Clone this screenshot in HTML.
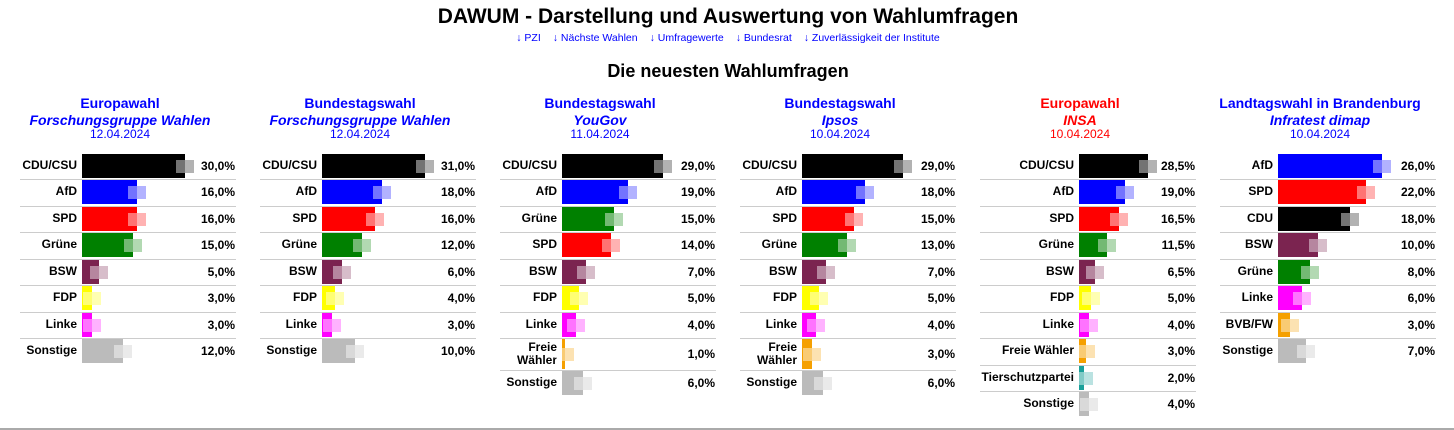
<!DOCTYPE html>
<html><head><meta charset="utf-8">
<style>
body{margin:0;width:1454px;height:430px;background:#fff;font-family:"Liberation Sans",Arial,sans-serif;position:relative;overflow:hidden}
.a{position:absolute;white-space:nowrap}
h1{position:absolute;top:5px;left:0;width:1456px;text-align:center;margin:0;font-size:21px;font-weight:bold}
.links{position:absolute;top:32px;left:0;width:1456px;text-align:center;font-size:10.5px;color:#00f}
.links span{margin:0 6px}
h2{position:absolute;top:61px;left:0;width:1456px;text-align:center;margin:0;font-size:18px;font-weight:bold}
.t{text-align:center;width:240px;color:#00f}
.lab{font-size:12px;font-weight:bold;text-align:right;line-height:13px}
.pct{font-size:12px;font-weight:bold;text-align:right}
.sep{position:absolute;height:1px;background:#ccc}
</style></head><body>
<h1>DAWUM - Darstellung und Auswertung von Wahlumfragen</h1>
<div class="links"><span>↓ PZI</span><span>↓ Nächste Wahlen</span><span>↓ Umfragewerte</span><span>↓ Bundesrat</span><span>↓ Zuverlässigkeit der Institute</span></div>
<h2>Die neuesten Wahlumfragen</h2>
<div style="position:absolute;left:0;top:428px;width:1454px;height:2px;background:#aaa"></div>
<div id="root"></div>
<script>
const C={CDU:"#000",AfD:"#00f",SPD:"#f00",G:"#008000",BSW:"#7b2450",FDP:"#ff0",L:"#f0f",FW:"#f5a000",S:"#bbb",T:"#1aa09a",BVB:"#f5a000"};
const P=[
 {x:0,l:20,bar:82,sc:3.43,c:"#00f",t:["Europawahl","Forschungsgruppe Wahlen","12.04.2024"],
  r:[["CDU/CSU","CDU",30],["AfD","AfD",16],["SPD","SPD",16],["Grüne","G",15],["BSW","BSW",5],["FDP","FDP",3],["Linke","L",3],["Sonstige","S",12]]},
 {x:240,l:260,bar:322,sc:3.32,c:"#00f",t:["Bundestagswahl","Forschungsgruppe Wahlen","12.04.2024"],
  r:[["CDU/CSU","CDU",31],["AfD","AfD",18],["SPD","SPD",16],["Grüne","G",12],["BSW","BSW",6],["FDP","FDP",4],["Linke","L",3],["Sonstige","S",10]]},
 {x:480,l:500,bar:562,sc:3.48,c:"#00f",t:["Bundestagswahl","YouGov","11.04.2024"],
  r:[["CDU/CSU","CDU",29],["AfD","AfD",19],["Grüne","G",15],["SPD","SPD",14],["BSW","BSW",7],["FDP","FDP",5],["Linke","L",4],["Freie<br>Wähler","FW",1,1],["Sonstige","S",6]]},
 {x:720,l:740,bar:802,sc:3.48,c:"#00f",t:["Bundestagswahl","Ipsos","10.04.2024"],
  r:[["CDU/CSU","CDU",29],["AfD","AfD",18],["SPD","SPD",15],["Grüne","G",13],["BSW","BSW",7],["FDP","FDP",5],["Linke","L",4],["Freie<br>Wähler","FW",3,1],["Sonstige","S",6]]},
 {x:960,l:980,bar:1079,sc:2.42,c:"#f00",t:["Europawahl","INSA","10.04.2024"],
  r:[["CDU/CSU","CDU",28.5],["AfD","AfD",19],["SPD","SPD",16.5],["Grüne","G",11.5],["BSW","BSW",6.5],["FDP","FDP",5],["Linke","L",4],["Freie Wähler","FW",3],["Tierschutzpartei","T",2],["Sonstige","S",4]]},
 {x:1200,l:1220,bar:1278,sc:4.0,c:"#00f",t:["Landtagswahl in Brandenburg","Infratest dimap","10.04.2024"],
  r:[["AfD","AfD",26],["SPD","SPD",22],["CDU","CDU",18],["BSW","BSW",10],["Grüne","G",8],["Linke","L",6],["BVB/FW","BVB",3],["Sonstige","S",7]]}
];
let h="";
for(const p of P){
 h+=`<div class="a t" style="left:${p.x}px;top:95px;font-size:14px;font-weight:bold;color:${p.c}">${p.t[0]}</div>`;
 h+=`<div class="a t" style="left:${p.x}px;top:112px;font-size:14px;font-weight:bold;font-style:italic;color:${p.c}">${p.t[1]}</div>`;
 h+=`<div class="a t" style="left:${p.x}px;top:127px;font-size:12px;color:${p.c}">${p.t[2]}</div>`;
 let y=153.5;
 p.r.forEach((r,i)=>{
  const tall=r[3];const rh=tall?32:26.5;const bh=tall?30:24;
  const col=C[r[1]];const w=Math.max(3,r[2]*p.sc);
  const cy=y+rh/2;
  h+=`<div class="a lab" style="right:${1454-(p.bar-5)}px;top:${cy-(tall?14:8)}px">${r[0]}</div>`;
  h+=`<div class="a" style="left:${p.bar}px;top:${y}px;width:${w}px;height:${bh}px;background:${col}"></div>`;
  const e=p.bar+w;
  h+=`<div class="a" style="left:${e-9}px;top:${cy-7}px;width:9px;height:13px;background:rgba(255,255,255,0.45)"></div>`;
  h+=`<div class="a" style="left:${e}px;top:${cy-7}px;width:9px;height:13px;background:${col};opacity:0.3"></div>`;
  h+=`<div class="a pct" style="right:${1454-(p.l+215)}px;top:${cy-8}px">${r[2].toFixed(1).replace('.',',')}%</div>`;
  if(i<p.r.length-1) h+=`<div class="sep" style="left:${p.l}px;top:${y+rh-1}px;width:216px"></div>`;
  y+=rh;
 });
}
document.getElementById("root").innerHTML=h;
</script>
</body></html>
